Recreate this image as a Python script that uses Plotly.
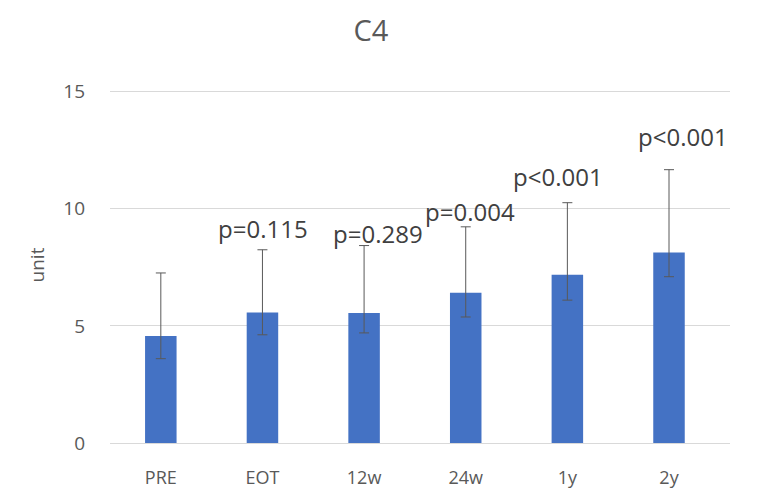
import plotly.graph_objects as go

categories = ["PRE", "EOT", "12w", "24w", "1y", "2y"]
values = [4.57, 5.57, 5.55, 6.41, 7.18, 8.13]
err_upper = [2.69, 2.68, 2.88, 2.82, 3.08, 3.54]
err_lower = [0.97, 0.95, 0.85, 1.03, 1.08, 1.03]
p_labels = ["", "p=0.115", "p=0.289", "p=0.004", "p<0.001", "p<0.001"]
label_xshift = [0, 1, 14, 4, -9, 14]
label_yshift = [0, 21, 12, 15, 26, 33]

FONT = "Open Sans, Liberation Sans, sans-serif"

fig = go.Figure()
fig.add_trace(go.Bar(
    x=categories, y=values, width=0.31,
    marker=dict(color="#4472C4", line=dict(width=0)),
    error_y=dict(type="data", symmetric=False, array=err_upper, arrayminus=err_lower,
                 color="#595959", thickness=1, width=5),
))

for c, v, e, t, xs, ys in zip(categories, values, err_upper, p_labels, label_xshift, label_yshift):
    if t:
        fig.add_annotation(x=c, y=v + e, text=t, showarrow=False,
                           xshift=xs, yshift=ys, yanchor="middle",
                           font=dict(family=FONT, size=24, color="#404040"))

fig.update_layout(
    width=769, height=489,
    margin=dict(l=102, r=47, t=79, b=54, autoexpand=False),
    paper_bgcolor="white", plot_bgcolor="white",
    showlegend=False,
    title=dict(text="C4", x=0.472, xanchor="center", y=0.953, yanchor="middle",
               font=dict(family=FONT, size=29, color="#595959")),
    xaxis=dict(showgrid=False, showline=False, automargin=False,
               tickfont=dict(family=FONT, size=18, color="#595959"), ticks="",
               ticklabelstandoff=22),
    yaxis=dict(range=[0, 15.2], tickvals=[0, 5, 10, 15], gridcolor="#d9d9d9", gridwidth=1,
               zeroline=True, zerolinecolor="#d9d9d9", zerolinewidth=1, automargin=False,
               tickfont=dict(family=FONT, size=19, color="#595959"),
               ticklabelstandoff=24,
               title=dict(text="unit", font=dict(family=FONT, size=19, color="#595959"),
                          standoff=13)),
)

fig.write_html("out.html")
